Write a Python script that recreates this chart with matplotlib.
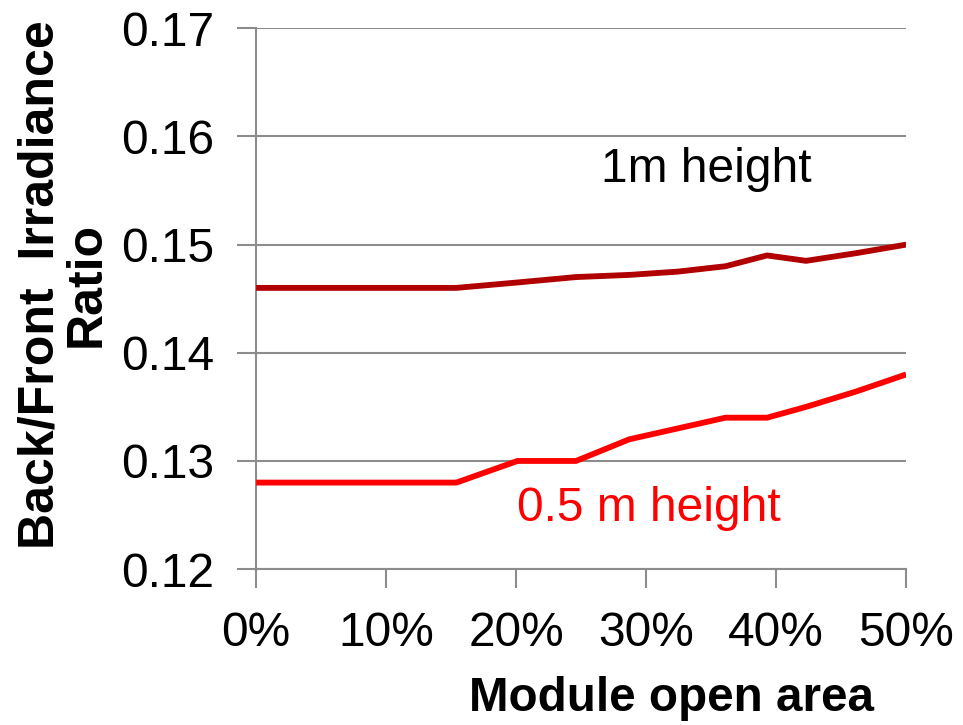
import matplotlib.pyplot as plt
from matplotlib.ticker import FuncFormatter

# module open area (%) and back/front irradiance ratio
open_area = [0, 15.4, 20.1, 24.6, 28.7, 32.4, 36.1, 39.3, 42.3, 46.1, 50]
ratio_1m = [0.146, 0.146, 0.1465, 0.147, 0.1472, 0.1475, 0.148, 0.149, 0.1485, 0.1492, 0.150]
ratio_05m = [0.128, 0.128, 0.130, 0.130, 0.132, 0.133, 0.134, 0.134, 0.135, 0.1364, 0.138]

x_ticks = [0, 10, 20, 30, 40, 50]
y_ticks = [0.12, 0.13, 0.14, 0.15, 0.16, 0.17]

plt.rcParams['font.family'] = ['Liberation Sans', 'DejaVu Sans']
grey = "#8c8c8c"

fig = plt.figure(figsize=(9.63, 7.25), dpi=100)
ax = fig.add_axes([0.266, 0.215, 0.675, 0.746])

ax.plot(open_area, ratio_1m, color="#b00000", lw=4.2, solid_capstyle="butt", zorder=3)
ax.plot(open_area, ratio_05m, color="#ff0000", lw=4.2, solid_capstyle="butt", zorder=3)

ax.set_xlim(0, 50)
ax.set_ylim(0.12, 0.17)
ax.set_xticks(x_ticks)
ax.set_yticks(y_ticks)
ax.xaxis.set_major_formatter(FuncFormatter(lambda v, p: "%d%%" % v))
ax.yaxis.set_major_formatter(FuncFormatter(lambda v, p: "%.2f" % v))
ax.tick_params(axis="both", labelsize=34.5, length=14, width=1.5, color=grey, direction="out")
ax.tick_params(axis="y", pad=16)
ax.tick_params(axis="x", pad=16)

ax.grid(axis="y", color=grey, lw=1.5)
ax.set_axisbelow(True)
for s in ["top", "right"]:
    ax.spines[s].set_visible(False)
for s in ["left", "bottom"]:
    ax.spines[s].set_color(grey)
    ax.spines[s].set_linewidth(1.5)

ax.text(26.5, 0.1569, "1m height", fontsize=34.5, color="black", ha="left", va="center")
ax.text(20.1, 0.1256, "0.5 m height", fontsize=34.5, color="#ff0000", ha="left", va="center")

fig.text(0.066, 0.607, "Back/Front  Irradiance\nRatio", rotation=90, fontsize=36, fontweight="bold",
         ha="center", va="center", linespacing=1.03)
fig.text(0.697, 0.037, "Module open area", fontsize=34.3, fontweight="bold", ha="center", va="center")

fig.savefig("out.png", dpi=100)
